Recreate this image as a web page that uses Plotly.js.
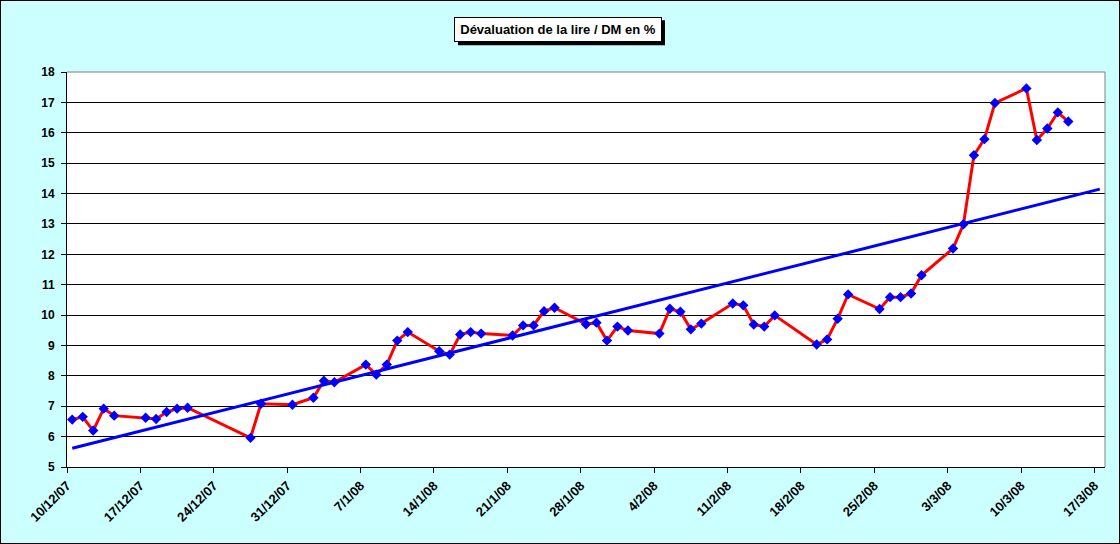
<!DOCTYPE html>
<html>
<head>
<meta charset="utf-8">
<script src="https://cdn.plot.ly/plotly-3.0.1.min.js"></script>
<style>
  html, body { margin: 0; padding: 0; background: #CCFFFF; }
  #chart { width: 1118px; height: 542px; border: 1px solid #000; }
</style>
</head>
<body>
<div id="chart"></div>
<script>
// Dates of the quotations (business days)
const dates = [
  '2007-12-10','2007-12-11','2007-12-12','2007-12-13','2007-12-14',
  '2007-12-17','2007-12-18','2007-12-19','2007-12-20','2007-12-21',
  '2007-12-27','2007-12-28','2007-12-31',
  '2008-01-02','2008-01-03','2008-01-04',
  '2008-01-07','2008-01-08','2008-01-09','2008-01-10','2008-01-11',
  '2008-01-14','2008-01-15','2008-01-16','2008-01-17','2008-01-18',
  '2008-01-21','2008-01-22','2008-01-23','2008-01-24','2008-01-25',
  '2008-01-28','2008-01-29','2008-01-30','2008-01-31','2008-02-01',
  '2008-02-04','2008-02-05','2008-02-06','2008-02-07','2008-02-08',
  '2008-02-11','2008-02-12','2008-02-13','2008-02-14','2008-02-15',
  '2008-02-19','2008-02-20','2008-02-21','2008-02-22',
  '2008-02-25','2008-02-26','2008-02-27','2008-02-28','2008-02-29',
  '2008-03-03','2008-03-04','2008-03-05','2008-03-06','2008-03-07',
  '2008-03-10','2008-03-11','2008-03-12','2008-03-13','2008-03-14'
];
// Devaluation in %
const devaluation = [
  6.56, 6.65, 6.20, 6.92, 6.69,
  6.62, 6.58, 6.81, 6.92, 6.95,
  5.96, 7.08, 7.05,
  7.28, 7.84, 7.79,
  8.37, 8.04, 8.37, 9.16, 9.44,
  8.81, 8.70, 9.36, 9.44, 9.39,
  9.33, 9.66, 9.66, 10.13, 10.24,
  9.70, 9.75, 9.16, 9.62, 9.49,
  9.39, 10.21, 10.11, 9.53, 9.72,
  10.38, 10.32, 9.69, 9.62, 9.99,
  9.03, 9.20, 9.88, 10.68,
  10.20, 10.59, 10.59, 10.71, 11.31,
  12.19, 12.99, 15.26, 15.79, 16.98,
  17.46, 15.76, 16.14, 16.67, 16.37
];
const tickDates = ['2007-12-10','2007-12-17','2007-12-24','2007-12-31','2008-01-07',
  '2008-01-14','2008-01-21','2008-01-28','2008-02-04','2008-02-11','2008-02-18',
  '2008-02-25','2008-03-03','2008-03-10','2008-03-17'];
const axisStart = '2007-12-10';
const axisEnd = '2008-03-18';
const trendEnd = '2008-03-17';
const titleText = 'Dévaluation de la lire / DM en %';

// points are plotted in the middle of their day (date axis "between tick marks")
const mid = d => d + ' 12:00';
const xs = dates.map(mid);

// linear trend (least squares on time)
const DAY = 86400000;
const t = dates.map(d => new Date(d + 'T12:00:00Z').getTime() / DAY);
const n = t.length;
const mt = t.reduce((a, b) => a + b, 0) / n;
const my = devaluation.reduce((a, b) => a + b, 0) / n;
let sxy = 0, sxx = 0;
for (let i = 0; i < n; i++) { sxy += (t[i] - mt) * (devaluation[i] - my); sxx += (t[i] - mt) ** 2; }
const slope = sxy / sxx, icpt = my - slope * mt;
const tEnd = new Date(trendEnd + 'T12:00:00Z').getTime() / DAY;
const trendX = [xs[0], mid(trendEnd)];
const trendY = [icpt + slope * t[0], icpt + slope * tEnd];

const FONT = 'Arial, "Liberation Sans", sans-serif';

const traces = [
  {
    x: xs, y: devaluation, type: 'scatter', mode: 'lines+markers',
    line: { color: '#FF0000', width: 3 },
    marker: { symbol: 'diamond', size: 8, color: '#0000FF' },
    hoverinfo: 'skip'
  },
  {
    x: trendX, y: trendY, type: 'scatter', mode: 'lines',
    line: { color: '#0000FF', width: 3 },
    hoverinfo: 'skip'
  }
];

const layout = {
  width: 1118, height: 542,
  margin: { l: 66, r: 14, t: 71, b: 76 },
  paper_bgcolor: '#CCFFFF',
  plot_bgcolor: '#FFFFFF',
  showlegend: false,
  font: { family: FONT, color: '#000' },
  xaxis: {
    type: 'date',
    range: [axisStart, axisEnd],
    tickmode: 'array',
    tickvals: tickDates,
    ticktext: tickDates.map(d => { const [y, m, dd] = d.split('-'); return (+dd) + '/' + (+m) + '/' + y.slice(2); }),
    tickangle: -45,
    ticks: 'outside', ticklen: 5, tickcolor: '#000', tickwidth: 1,
    showgrid: false, zeroline: false,
    showline: true, linecolor: '#000', linewidth: 1,
    tickfont: { family: FONT, size: 13, color: '#000', weight: 'bold' },
    fixedrange: true
  },
  yaxis: {
    range: [5, 18], dtick: 1, tick0: 5,
    ticks: 'outside', ticklen: 5, tickcolor: '#000', tickwidth: 1,
    ticklabelstandoff: 4,
    showgrid: true, gridcolor: '#000', gridwidth: 1,
    zeroline: false,
    showline: true, linecolor: '#000', linewidth: 1,
    tickfont: { family: FONT, size: 12, color: '#000', weight: 'bold' },
    fixedrange: true
  },
  shapes: [
    // gray plot-area border top & right
    { type: 'line', xref: 'paper', yref: 'paper', x0: 0, x1: 1, y0: 1, y1: 1, line: { color: '#808080', width: 1 }, layer: 'above' },
    { type: 'line', xref: 'paper', yref: 'paper', x0: 1, x1: 1, y0: 0, y1: 1, line: { color: '#808080', width: 1 }, layer: 'above' },
    // title shadow
    { type: 'rect', xref: 'paper', yref: 'paper', xsizemode: 'pixel', ysizemode: 'pixel',
      xanchor: 0.4735, yanchor: 1.107, x0: -100.5, x1: 106.5, y0: -15.5, y1: 9.5,
      fillcolor: '#000', line: { width: 0 }, layer: 'above' }
  ],
  annotations: [
    { text: titleText, xref: 'paper', yref: 'paper', x: 0.4735, y: 1.107,
      xanchor: 'center', yanchor: 'middle', showarrow: false,
      width: 200, height: 17,
      bgcolor: '#FFFFFF', bordercolor: '#000', borderwidth: 1, borderpad: 3,
      font: { family: FONT, size: 13, color: '#000', weight: 'bold' } }
  ]
};

Plotly.newPlot('chart', traces, layout, { displayModeBar: false, staticPlot: true });
</script>
</body>
</html>
